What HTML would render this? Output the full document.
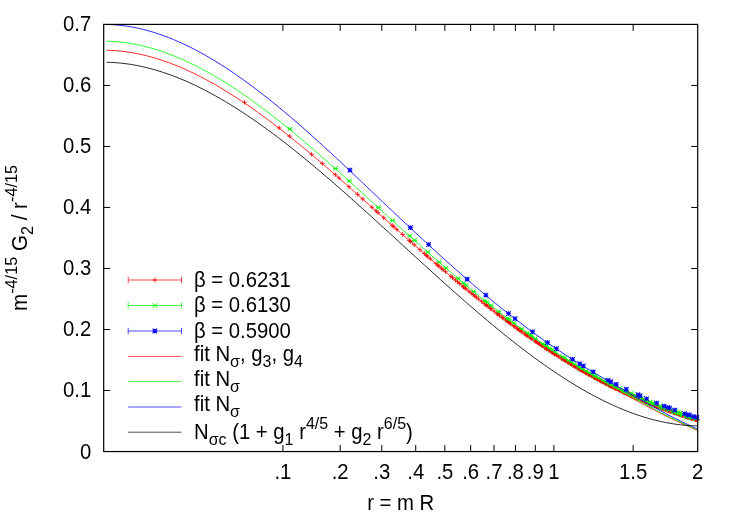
<!DOCTYPE html>
<html><head><meta charset="utf-8"><title>plot</title>
<style>html,body{margin:0;padding:0;background:#fff}svg{display:block;will-change:transform}</style>
</head><body>
<svg width="732" height="513" viewBox="0 0 732 513" font-family="'Liberation Sans', sans-serif" font-size="20.3px" fill="#000">
<rect width="732" height="513" fill="#fff"/>
<text transform="translate(91.3 458.5) scale(1 1.06)" text-anchor="end">0</text>
<text transform="translate(91.3 397.48) scale(1 1.06)" text-anchor="end">0.1</text>
<text transform="translate(91.3 336.46) scale(1 1.06)" text-anchor="end">0.2</text>
<text transform="translate(91.3 275.44) scale(1 1.06)" text-anchor="end">0.3</text>
<text transform="translate(91.3 214.41) scale(1 1.06)" text-anchor="end">0.4</text>
<text transform="translate(91.3 153.39) scale(1 1.06)" text-anchor="end">0.5</text>
<text transform="translate(91.3 92.37) scale(1 1.06)" text-anchor="end">0.6</text>
<text transform="translate(91.3 31.35) scale(1 1.06)" text-anchor="end">0.7</text>
<text transform="translate(282.92 479.2) scale(1 1.06)" text-anchor="middle">.1</text>
<text transform="translate(340.18 479.2) scale(1 1.06)" text-anchor="middle">.2</text>
<text transform="translate(381.81 479.2) scale(1 1.06)" text-anchor="middle">.3</text>
<text transform="translate(415.73 479.2) scale(1 1.06)" text-anchor="middle">.4</text>
<text transform="translate(444.86 479.2) scale(1 1.06)" text-anchor="middle">.5</text>
<text transform="translate(470.67 479.2) scale(1 1.06)" text-anchor="middle">.6</text>
<text transform="translate(494.01 479.2) scale(1 1.06)" text-anchor="middle">.7</text>
<text transform="translate(515.43 479.2) scale(1 1.06)" text-anchor="middle">.8</text>
<text transform="translate(535.29 479.2) scale(1 1.06)" text-anchor="middle">.9</text>
<text transform="translate(553.87 479.2) scale(1 1.06)" text-anchor="middle">1</text>
<text transform="translate(633.13 479.2) scale(1 1.06)" text-anchor="middle">1.5</text>
<text transform="translate(697.7 479.2) scale(1 1.06)" text-anchor="middle">2</text>
<text transform="translate(400.7 509.8) scale(1 1.06)" text-anchor="middle">r = m R</text>
<text transform="translate(27 238) rotate(-90) scale(1.015 1.06)" text-anchor="middle">m<tspan font-size="16px" dy="-9.58">-4/15</tspan><tspan dy="9.58"> G</tspan><tspan font-size="16px" dy="5.75">2</tspan><tspan dy="-5.75"> / r</tspan><tspan font-size="16px" dy="-9.58">-4/15</tspan></text>
<text transform="translate(194.0 286.5) scale(1 1.06)">β = 0.6231</text>
<text transform="translate(194.0 312) scale(1 1.06)">β = 0.6130</text>
<text transform="translate(194.0 337.5) scale(1 1.06)">β = 0.5900</text>
<text transform="translate(194.0 361) scale(1 1.06)">fit N<tspan font-size="16px" dy="5.75">&#963;</tspan><tspan dy="-5.75">, g</tspan><tspan font-size="16px" dy="5.75">3</tspan><tspan dy="-5.75">, g</tspan><tspan font-size="16px" dy="5.75">4</tspan></text>
<text transform="translate(194.0 386.2) scale(1 1.06)">fit N<tspan font-size="16px" dy="5.75">&#963;</tspan></text>
<text transform="translate(194.0 411.2) scale(1 1.06)">fit N<tspan font-size="16px" dy="5.75">&#963;</tspan></text>
<text transform="translate(194.0 439.3) scale(1 1.06)">N<tspan font-size="16px" dy="5.75">&#963;c</tspan><tspan dy="-5.75"> (1 + g</tspan><tspan font-size="16px" dy="5.75">1</tspan><tspan dy="-5.75"> r</tspan><tspan font-size="16px" dy="-9.58">4/5</tspan><tspan dy="9.58"> + g</tspan><tspan font-size="16px" dy="5.75">2</tspan><tspan dy="-5.75"> r</tspan><tspan font-size="16px" dy="-9.58">6/5</tspan><tspan dy="9.58">)</tspan></text>
<path d="M128.2 280H181.5M128.2 276.8v6.4M181.5 276.8v6.4" stroke="#ff0000" stroke-width="0.7" fill="none"/>
<path d="M152.55 280H157.15M154.85 277.7V282.3M242.29 102.31H246.89M244.59 100.01V104.61M276.91 127.88H281.51M279.21 125.58V130.18M287.31 136.13H291.91M289.61 133.83V138.43M309.32 154.29H313.92M311.62 151.99V156.59M320.04 163.43H324.64M322.34 161.13V165.73M332.99 174.66H337.59M335.29 172.36V176.96M336.73 177.94H341.33M339.03 175.64V180.24M346.71 186.74H351.31M349.01 184.44V189.04M355.29 194.37H359.89M357.59 192.07V196.67M360.42 198.96H365.02M362.72 196.66V201.26M369.61 207.19H374.21M371.91 204.89V209.49M373.77 210.92H378.37M376.07 208.62V213.22M375.76 212.7H380.36M378.06 210.4V215M381.4 217.74H386M383.7 215.44V220.04M389.9 225.3H394.5M392.2 223V227.6M391.49 226.7H396.09M393.79 224.4V229M394.56 229.42H399.16M396.86 227.12V231.72M400.34 234.53H404.94M402.64 232.23V236.83M406.99 240.38H411.59M409.29 238.08V242.68M408.25 241.49H412.85M410.55 239.19V243.79M411.92 244.71H416.52M414.22 242.41V247.01M417.67 249.73H422.27M419.97 247.43V252.03M421.99 253.49H426.59M424.29 251.19V255.79M424.07 255.29H428.67M426.37 252.99V257.59M425.09 256.17H429.69M427.39 253.87V258.47M428.06 258.75H432.66M430.36 256.45V261.05M433.72 263.62H438.32M436.02 261.32V265.92M435.52 265.17H440.12M437.82 262.87V267.47M436.4 265.93H441M438.7 263.63V268.23M439.01 268.15H443.61M441.31 265.85V270.45M440.7 269.59H445.3M443 267.29V271.89M443.18 271.69H447.78M445.48 269.39V273.99M448.69 276.35H453.29M450.99 274.05V278.65M450.21 277.62H454.81M452.51 275.32V279.92M453.16 280.09H457.76M455.46 277.79V282.39M455.3 281.88H459.9M457.6 279.58V284.18M457.4 283.62H462M459.7 281.32V285.92M460.79 286.42H465.39M463.09 284.12V288.72M461.46 286.96H466.06M463.76 284.66V289.26M462.77 288.04H467.37M465.07 285.74V290.34M463.42 288.57H468.02M465.72 286.27V290.87M466.59 291.17H471.19M468.89 288.87V293.47M469.06 293.17H473.66M471.36 290.87V295.47M470.86 294.63H475.46M473.16 292.33V296.93M472.63 296.06H477.23M474.93 293.76V298.36M473.8 296.99H478.4M476.1 294.69V299.29M476.08 298.82H480.68M478.38 296.52V301.12M479.4 301.47H484M481.7 299.17V303.77M482.08 303.59H486.68M484.38 301.29V305.89M483.65 304.82H488.25M485.95 302.52V307.12M484.17 305.23H488.77M486.47 302.93V307.53M485.71 306.44H490.31M488.01 304.14V308.74M488.22 308.39H492.82M490.52 306.09V310.69M488.72 308.78H493.32M491.02 306.48V311.08M491.63 311.03H496.23M493.93 308.73V313.33M494.46 313.21H499.06M496.76 310.91V315.51M495.39 313.91H499.99M497.69 311.61V316.21M495.85 314.26H500.45M498.15 311.96V316.56M497.22 315.3H501.82M499.52 313V317.6M499.89 317.33H504.49M502.19 315.03V319.63M500.77 317.99H505.37M503.07 315.69V320.29M503.36 319.93H507.96M505.66 317.63V322.23M504.62 320.87H509.22M506.92 318.57V323.17M505.04 321.18H509.64M507.34 318.88V323.48M506.29 322.11H510.89M508.59 319.81V324.41M507.52 323.02H512.12M509.82 320.72V325.32M508.34 323.62H512.94M510.64 321.32V325.92M511.13 325.67H515.73M513.43 323.37V327.97M512.31 326.52H516.91M514.61 324.22V328.82M514.62 328.2H519.22M516.92 325.9V330.5M515.38 328.74H519.98M517.68 326.44V331.04M516.88 329.82H521.48M519.18 327.52V332.12M517.62 330.36H522.22M519.92 328.06V332.66M518.72 331.14H523.32M521.02 328.84V333.44M519.09 331.41H523.69M521.39 329.11V333.71M521.97 333.45H526.57M524.27 331.15V335.75M523.38 334.44H527.98M525.68 332.14V336.74M524.08 334.93H528.68M526.38 332.63V337.23M524.42 335.18H529.02M526.72 332.88V337.48M525.46 335.9H530.06M527.76 333.6V338.2M527.16 337.09H531.76M529.46 334.79V339.39M528.51 338.02H533.11M530.81 335.72V340.32M529.5 338.71H534.1M531.8 336.41V341.01M532.44 340.72H537.04M534.74 338.42V343.02M533.4 341.38H538M535.7 339.08V343.68M534.03 341.81H538.63M536.33 339.51V344.11M535.29 342.66H539.89M537.59 340.36V344.96M535.92 343.09H540.52M538.22 340.79V345.39M537.16 343.92H541.76M539.46 341.62V346.22M538.99 345.15H543.59M541.29 342.85V347.45M539.59 345.56H544.19M541.89 343.26V347.86M539.89 345.76H544.49M542.19 343.46V348.06M542.27 347.34H546.87M544.57 345.04V349.64M542.56 347.53H547.16M544.86 345.23V349.83M543.44 348.11H548.04M545.74 345.81V350.41M544.31 348.68H548.91M546.61 346.38V350.98M544.88 349.06H549.48M547.18 346.76V351.36M546.03 349.81H550.63M548.33 347.51V352.11M546.88 350.36H551.48M549.18 348.06V352.66M549.11 351.81H553.71M551.41 349.51V354.11M549.38 351.99H553.98M551.68 349.69V354.29M549.93 352.34H554.53M552.23 350.04V354.64M551.03 353.05H555.63M553.33 350.75V355.35M551.57 353.39H556.17M553.87 351.09V355.69M552.38 353.91H556.98M554.68 351.61V356.21M552.65 354.08H557.25M554.95 351.78V356.38M554.24 355.1H558.84M556.54 352.8V357.4M555.81 356.1H560.41M558.11 353.8V358.4M556.33 356.43H560.93M558.63 354.13V358.73M558.9 358.04H563.5M561.2 355.74V360.34M559.4 358.36H564M561.7 356.06V360.66M559.65 358.52H564.25M561.95 356.22V360.82M560.41 358.98H565.01M562.71 356.68V361.28M561.65 359.76H566.25M563.95 357.46V362.06M561.9 359.91H566.5M564.2 357.61V362.21M563.37 360.82H567.97M565.67 358.52V363.12M563.86 361.12H568.46M566.16 358.82V363.42M565.3 362.01H569.9M567.6 359.71V364.31M565.54 362.15H570.14M567.84 359.85V364.45M567.68 363.45H572.28M569.98 361.15V365.75M568.15 363.74H572.75M570.45 361.44V366.04M568.38 363.88H572.98M570.68 361.58V366.18M569.08 364.3H573.68M571.38 362V366.6M570.46 365.13H575.06M572.76 362.83V367.43M571.15 365.54H575.75M573.45 363.24V367.84M572.28 366.22H576.88M574.58 363.92V368.52M573.18 366.75H577.78M575.48 364.45V369.05M574.52 367.54H579.12M576.82 365.24V369.84M575.62 368.19H580.22M577.92 365.89V370.49M575.84 368.32H580.44M578.14 366.02V370.62M576.5 368.7H581.1M578.8 366.4V371M577.15 369.09H581.75M579.45 366.79V371.39M577.58 369.34H582.18M579.88 367.04V371.64M578.23 369.71H582.83M580.53 367.41V372.01M579.09 370.2H583.69M581.39 367.9V372.5M580.15 370.81H584.75M582.45 368.51V373.11M580.99 371.29H585.59M583.29 368.99V373.59M582.24 371.99H586.84M584.54 369.69V374.29M583.28 372.57H587.88M585.58 370.27V374.87M583.48 372.69H588.08M585.78 370.39V374.99M583.89 372.92H588.49M586.19 370.62V375.22M584.71 373.37H589.31M587.01 371.07V375.67M585.92 374.05H590.52M588.22 371.75V376.35M586.53 374.38H591.13M588.83 372.08V376.68M587.13 374.71H591.73M589.43 372.41V377.01M587.53 374.93H592.13M589.83 372.63V377.23M588.91 375.69H593.51M591.21 373.39V377.99M589.5 376.01H594.1M591.8 373.71V378.31M591.05 376.86H595.65M593.35 374.56V379.16M591.25 376.97H595.85M593.55 374.67V379.27M591.82 377.29H596.42M594.12 374.99V379.59M592.21 377.5H596.81M594.51 375.2V379.8M592.78 377.81H597.38M595.08 375.51V380.11M594.11 378.53H598.71M596.41 376.23V380.83M594.48 378.74H599.08M596.78 376.44V381.04M595.23 379.14H599.83M597.53 376.84V381.44M595.79 379.45H600.39M598.09 377.15V381.75M597.45 380.35H602.05M599.75 378.05V382.65M597.82 380.54H602.42M600.12 378.24V382.84M598.55 380.93H603.15M600.85 378.63V383.23M598.91 381.13H603.51M601.21 378.83V383.43M599.63 381.52H604.23M601.93 379.22V383.82M600.17 381.8H604.77M602.47 379.5V384.1M600.71 382.09H605.31M603.01 379.79V384.39M602.13 382.84H606.73M604.43 380.54V385.14M602.83 383.21H607.43M605.13 380.91V385.51M603.71 383.67H608.31M606.01 381.37V385.97M603.88 383.76H608.48M606.18 381.46V386.06M604.23 383.94H608.83M606.53 381.64V386.24M605.78 384.74H610.38M608.08 382.44V387.04M605.96 384.83H610.56M608.26 382.53V387.13M606.47 385.09H611.07M608.77 382.79V387.39M607.32 385.51H611.92M609.62 383.21V387.81M608 385.84H612.6M610.3 383.54V388.14M608.33 386H612.93M610.63 383.7V388.3M608.5 386.08H613.1M610.8 383.78V388.38M609 386.32H613.6M611.3 384.02V388.62M610 386.79H614.6M612.3 384.49V389.09M610.99 387.24H615.59M613.29 384.94V389.54M611.82 387.62H616.42M614.12 385.32V389.92M611.98 387.69H616.58M614.28 385.39V389.99M612.47 387.91H617.07M614.77 385.61V390.21M612.96 388.13H617.56M615.26 385.83V390.43M613.28 388.28H617.88M615.58 385.98V390.58M613.92 388.57H618.52M616.22 386.27V390.87M614.89 389.01H619.49M617.19 386.71V391.31M616.16 389.59H620.76M618.46 387.29V391.89M616.32 389.66H620.92M618.62 387.36V391.96M617.1 390.02H621.7M619.4 387.72V392.32M617.73 390.3H622.33M620.03 388V392.6M618.97 390.86H623.57M621.27 388.56V393.16M619.59 391.13H624.19M621.89 388.83V393.43M619.9 391.27H624.5M622.2 388.97V393.57M620.05 391.34H624.65M622.35 389.04V393.64M620.51 391.54H625.11M622.81 389.24V393.84M621.27 391.88H625.87M623.57 389.58V394.18M621.73 392.08H626.33M624.03 389.78V394.38M621.88 392.15H626.48M624.18 389.85V394.45M622.33 392.35H626.93M624.63 390.05V394.65M623.68 392.96H628.28M625.98 390.66V395.26M624.13 393.15H628.73M626.43 390.85V395.45M625.02 393.55H629.62M627.32 391.25V395.85M625.31 393.68H629.91M627.61 391.38V395.98M626.78 394.34H631.38M629.08 392.04V396.64M627.07 394.47H631.67M629.37 392.17V396.77M627.22 394.53H631.82M629.52 392.23V396.83M627.65 394.73H632.25M629.95 392.43V397.03M627.94 394.86H632.54M630.24 392.56V397.16M628.37 395.05H632.97M630.67 392.75V397.35M628.52 395.11H633.12M630.82 392.81V397.41M629.38 395.5H633.98M631.68 393.2V397.8M629.66 395.62H634.26M631.96 393.32V397.92M631.08 396.25H635.68M633.38 393.95V398.55M631.78 396.57H636.38M634.08 394.27V398.87M631.92 396.63H636.52M634.22 394.33V398.93M632.76 397H637.36M635.06 394.7V399.3M633.46 397.31H638.06M635.76 395.01V399.61M633.6 397.37H638.2M635.9 395.07V399.67M634.01 397.55H638.61M636.31 395.25V399.85M634.42 397.74H639.02M636.72 395.44V400.04M634.7 397.86H639.3M637 395.56V400.16M635.66 398.28H640.26M637.96 395.98V400.58M636.06 398.46H640.66M638.36 396.16V400.76M636.88 398.81H641.48M639.18 396.51V401.11M637.28 398.99H641.88M639.58 396.69V401.29M638.35 399.46H642.95M640.65 397.16V401.76M639.29 399.86H643.89M641.59 397.56V402.16M639.55 399.98H644.15M641.85 397.68V402.28M640.08 400.21H644.68M642.38 397.91V402.51M640.34 400.32H644.94M642.64 398.02V402.62M640.87 400.55H645.47M643.17 398.25V402.85M641.65 400.88H646.25M643.95 398.58V403.18M641.91 400.99H646.51M644.21 398.69V403.29M642.04 401.05H646.64M644.34 398.75V403.35M642.69 401.33H647.29M644.99 399.03V403.63M643.21 401.55H647.81M645.51 399.25V403.85M643.59 401.71H648.19M645.89 399.41V404.01M643.98 401.87H648.58M646.28 399.57V404.17M644.24 401.98H648.84M646.54 399.68V404.28M644.75 402.2H649.35M647.05 399.9V404.5M645.51 402.52H650.11M647.81 400.22V404.82M646.52 402.94H651.12M648.82 400.64V405.24M646.64 403H651.24M648.94 400.7V405.3M647.02 403.15H651.62M649.32 400.85V405.45M647.27 403.26H651.87M649.57 400.96V405.56M647.65 403.42H652.25M649.95 401.12V405.72M647.77 403.47H652.37M650.07 401.17V405.77M648.52 403.78H653.12M650.82 401.48V406.08M649.26 404.09H653.86M651.56 401.79V406.39M649.63 404.24H654.23M651.93 401.94V406.54M650.61 404.64H655.21M652.91 402.34V406.94M650.97 404.79H655.57M653.27 402.49V407.09M651.46 404.99H656.06M653.76 402.69V407.29M652.06 405.23H656.66M654.36 402.93V407.53M652.54 405.43H657.14M654.84 403.13V407.73M652.91 405.57H657.51M655.21 403.27V407.87M653.15 405.67H657.75M655.45 403.37V407.97M653.62 405.86H658.22M655.92 403.56V408.16M653.86 405.96H658.46M656.16 403.66V408.26M654.34 406.15H658.94M656.64 403.85V408.45M655.05 406.43H659.65M657.35 404.13V408.73M655.29 406.52H659.89M657.59 404.22V408.82M656.34 406.93H660.94M658.64 404.63V409.23M656.46 406.97H661.06M658.76 404.67V409.27M657.86 407.51H662.46M660.16 405.21V409.81M658.2 407.64H662.8M660.5 405.34V409.94M658.55 407.77H663.15M660.85 405.47V410.07M659.12 407.98H663.72M661.42 405.68V410.28M659.24 408.02H663.84M661.54 405.72V410.32M659.47 408.11H664.07M661.77 405.81V410.41M659.58 408.15H664.18M661.88 405.85V410.45M660.15 408.36H664.75M662.45 406.06V410.66M660.95 408.65H665.55M663.25 406.35V410.95M661.29 408.77H665.89M663.59 406.47V411.07M661.51 408.85H666.11M663.81 406.55V411.15M661.96 409.01H666.56M664.26 406.71V411.31M662.19 409.09H666.79M664.49 406.79V411.39M663.2 409.43H667.8M665.5 407.13V411.73M663.31 409.47H667.91M665.61 407.17V411.77M663.53 409.54H668.13M665.83 407.24V411.84M664.64 409.9H669.24M666.94 407.6V412.2M664.97 410.01H669.57M667.27 407.71V412.31M665.3 410.12H669.9M667.6 407.82V412.42M665.52 410.19H670.12M667.82 407.89V412.49M665.96 410.34H670.56M668.26 408.04V412.64M666.28 410.45H670.88M668.58 408.15V412.75M666.61 410.57H671.21M668.91 408.27V412.87M667.48 410.87H672.08M669.78 408.57V413.17M667.91 411.02H672.51M670.21 408.72V413.32M668.12 411.1H672.72M670.42 408.8V413.4M668.55 411.25H673.15M670.85 408.95V413.55M669.2 411.48H673.8M671.5 409.18V413.78M669.84 411.71H674.44M672.14 409.41V414.01M670.16 411.83H674.76M672.46 409.53V414.13M670.47 411.94H675.07M672.77 409.64V414.24M671.32 412.24H675.92M673.62 409.94V414.54M671.42 412.28H676.02M673.72 409.98V414.58M671.74 412.39H676.34M674.04 410.09V414.69M671.95 412.47H676.55M674.25 410.17V414.77M672.26 412.58H676.86M674.56 410.28V414.88M672.37 412.61H676.97M674.67 410.31V414.91M672.99 412.84H677.59M675.29 410.54V415.14M673.2 412.91H677.8M675.5 410.61V415.21M673.93 413.17H678.53M676.23 410.87V415.47M674.75 413.46H679.35M677.05 411.16V415.76M674.85 413.5H679.45M677.15 411.2V415.8M675.06 413.57H679.66M677.36 411.27V415.87M675.47 413.72H680.07M677.77 411.42V416.02M676.08 413.94H680.68M678.38 411.64V416.24M676.38 414.05H680.98M678.68 411.75V416.35M676.89 414.23H681.49M679.19 411.93V416.53M677.3 414.37H681.9M679.6 412.07V416.67M677.5 414.45H682.1M679.8 412.15V416.75M677.9 414.59H682.5M680.2 412.29V416.89M678.5 414.8H683.1M680.8 412.5V417.1M678.8 414.91H683.4M681.1 412.61V417.21M679.1 415.01H683.7M681.4 412.71V417.31M679.3 415.08H683.9M681.6 412.78V417.38M679.6 415.18H684.2M681.9 412.88V417.48M680 415.32H684.6M682.3 413.02V417.62M680.29 415.42H684.89M682.59 413.12V417.72M681.47 415.82H686.07M683.77 413.52V418.12M682.26 416.07H686.86M684.56 413.77V418.37M682.84 416.26H687.44M685.14 413.96V418.56M683.13 416.35H687.73M685.43 414.05V418.65M683.23 416.38H687.83M685.53 414.08V418.68M683.52 416.46H688.12M685.82 414.16V418.76M684 416.6H688.6M686.3 414.3V418.9M684.39 416.71H688.99M686.69 414.41V419.01M684.68 416.8H689.28M686.98 414.5V419.1M685.54 417.04H690.14M687.84 414.74V419.34M685.73 417.09H690.33M688.03 414.79V419.39M685.82 417.12H690.42M688.12 414.82V419.42M686.11 417.2H690.71M688.41 414.9V419.5M686.58 417.33H691.18M688.88 415.03V419.63M686.68 417.36H691.28M688.98 415.06V419.66M687.81 417.69H692.41M690.11 415.39V419.99M687.99 417.74H692.59M690.29 415.44V420.04M688.09 417.77H692.69M690.39 415.47V420.07M688.93 418.02H693.53M691.23 415.72V420.32M689.12 418.07H693.72M691.42 415.77V420.37M689.21 418.1H693.81M691.51 415.8V420.4M689.49 418.18H694.09M691.79 415.88V420.48M690.04 418.34H694.64M692.34 416.04V420.64M690.6 418.5H695.2M692.9 416.2V420.8M690.78 418.56H695.38M693.08 416.26V420.86M691.7 418.82H696.3M694 416.52V421.12M692.16 418.96H696.76M694.46 416.66V421.26M692.25 418.98H696.85M694.55 416.68V421.28M692.43 419.04H697.03M694.73 416.74V421.34M692.52 419.06H697.12M694.82 416.76V421.36M692.79 419.14H697.39M695.09 416.84V421.44M693.25 419.27H697.85M695.55 416.97V421.57M694.06 419.5H698.66M696.36 417.2V421.8M694.42 419.61H699.02M696.72 417.31V421.91M694.6 419.66H699.2M696.9 417.36V421.96M694.69 419.68H699.29M696.99 417.38V421.98M694.95 419.76H699.55M697.25 417.46V422.06" stroke="#ff0000" stroke-width="0.85" fill="none"/>
<path d="M128.2 305.5H181.5M128.2 302.3v6.4M181.5 302.3v6.4" stroke="#00ff00" stroke-width="0.7" fill="none"/>
<path d="M152.55 303.2L157.15 307.8M152.55 307.8L157.15 303.2M152.55 305.5H157.15M287.58 126.56L292.18 131.16M287.58 131.16L292.18 126.56M287.58 128.86H292.18M333.33 166.2L337.93 170.8M333.33 170.8L337.93 166.2M333.33 168.5H337.93M347.07 178.61L351.67 183.21M347.07 183.21L351.67 178.61M347.07 180.91H351.67M376.16 205.24L380.76 209.84M376.16 209.84L380.76 205.24M376.16 207.54H380.76M390.32 218.16L394.92 222.76M390.32 222.76L394.92 218.16M390.32 220.46H394.92M407.43 233.62L412.03 238.22M407.43 238.22L412.03 233.62M407.43 235.92H412.03M412.37 238.05L416.97 242.65M412.37 242.65L416.97 238.05M412.37 240.35H416.97M425.56 249.8L430.16 254.4M425.56 254.4L430.16 249.8M425.56 252.1H430.16M436.89 259.79L441.49 264.39M436.89 264.39L441.49 259.79M436.89 262.09H441.49M443.68 265.69L448.28 270.29M443.68 270.29L448.28 265.69M443.68 267.99H448.28M455.82 276.12L460.42 280.72M455.82 280.72L460.42 276.12M455.82 278.42H460.42M461.32 280.77L465.92 285.37M461.32 285.37L465.92 280.77M461.32 283.07H465.92M463.95 282.97L468.55 287.57M463.95 287.57L468.55 282.97M463.95 285.27H468.55M471.4 289.18L476 293.78M471.4 293.78L476 289.18M471.4 291.48H476M482.63 298.34L487.23 302.94M482.63 302.94L487.23 298.34M482.63 300.64H487.23M484.73 300.02L489.33 304.62M484.73 304.62L489.33 300.02M484.73 302.32H489.33M488.79 303.26L493.39 307.86M488.79 307.86L493.39 303.26M488.79 305.56H493.39M496.43 309.26L501.03 313.86M496.43 313.86L501.03 309.26M496.43 311.56H501.03M505.21 316.02L509.81 320.62M505.21 320.62L509.81 316.02M505.21 318.32H509.81M506.88 317.28L511.48 321.88M506.88 321.88L511.48 317.28M506.88 319.58H511.48M511.73 320.92L516.33 325.52M511.73 325.52L516.33 320.92M511.73 323.22H516.33M519.33 326.53L523.93 331.13M519.33 331.13L523.93 326.53M519.33 328.83H523.93M525.04 330.65L529.64 335.25M525.04 335.25L529.64 330.65M525.04 332.95H529.64M527.78 332.6L532.38 337.2M527.78 337.2L532.38 332.6M527.78 334.9H532.38M529.13 333.55L533.73 338.15M529.13 338.15L533.73 333.55M529.13 335.85H533.73M533.06 336.32L537.66 340.92M533.06 340.92L537.66 336.32M533.06 338.62H537.66M540.53 341.47L545.13 346.07M540.53 346.07L545.13 341.47M540.53 343.77H545.13M542.91 343.08L547.51 347.68M542.91 347.68L547.51 343.08M542.91 345.38H547.51M544.08 343.87L548.68 348.47M544.08 348.47L548.68 343.87M544.08 346.17H548.68M547.53 346.17L552.13 350.77M547.53 350.77L552.13 346.17M547.53 348.47H552.13M549.76 347.65L554.36 352.25M549.76 352.25L554.36 347.65M549.76 349.95H554.36M553.03 349.8L557.63 354.4M553.03 354.4L557.63 349.8M553.03 352.1H557.63M560.32 354.51L564.92 359.11M560.32 359.11L564.92 354.51M560.32 356.81H564.92M562.32 355.78L566.92 360.38M562.32 360.38L566.92 355.78M562.32 358.08H566.92M566.22 358.22L570.82 362.82M566.22 362.82L570.82 358.22M566.22 360.52H570.82M569.06 359.98L573.66 364.58M569.06 364.58L573.66 359.98M569.06 362.28H573.66M571.83 361.68L576.43 366.28M571.83 366.28L576.43 361.68M571.83 363.98H576.43M576.32 364.39L580.92 368.99M576.32 368.99L580.92 364.39M576.32 366.69H580.92M577.19 364.92L581.79 369.52M577.19 369.52L581.79 364.92M577.19 367.22H581.79M578.93 365.94L583.53 370.54M578.93 370.54L583.53 365.94M578.93 368.24H583.53M579.78 366.44L584.38 371.04M579.78 371.04L584.38 366.44M579.78 368.74H584.38M583.98 368.86L588.58 373.46M583.98 373.46L588.58 368.86M583.98 371.16H588.58M587.23 370.71L591.83 375.31M587.23 375.31L591.83 370.71M587.23 373.01H591.83M589.62 372.05L594.22 376.65M589.62 376.65L594.22 372.05M589.62 374.35H594.22M591.96 373.36L596.56 377.96M591.96 377.96L596.56 373.36M591.96 375.66H596.56M593.5 374.22L598.1 378.82M593.5 378.82L598.1 374.22M593.5 376.52H598.1M596.51 375.89L601.11 380.49M596.51 380.49L601.11 375.89M596.51 378.19H601.11M600.9 378.3L605.5 382.9M600.9 382.9L605.5 378.3M600.9 380.6H605.5M604.44 380.19L609.04 384.79M604.44 384.79L609.04 380.19M604.44 382.49H609.04M606.52 381.29L611.12 385.89M606.52 385.89L611.12 381.29M606.52 383.59H611.12M607.21 381.64L611.81 386.24M607.21 386.24L611.81 381.64M607.21 383.94H611.81M609.24 382.64L613.84 387.24M609.24 387.24L613.84 382.64M609.24 384.94H613.84M612.56 384.19L617.16 388.79M612.56 388.79L617.16 384.19M612.56 386.49H617.16M613.21 384.49L617.81 389.09M613.21 389.09L617.81 384.49M613.21 386.79H617.81M617.07 386.28L621.67 390.88M617.07 390.88L621.67 386.28M617.07 388.58H621.67M620.81 388L625.41 392.6M620.81 392.6L625.41 388M620.81 390.3H625.41M622.03 388.55L626.63 393.15M622.03 393.15L626.63 388.55M622.03 390.85H626.63M622.64 388.83L627.24 393.43M622.64 393.43L627.24 388.83M622.64 391.13H627.24M624.45 389.65L629.05 394.25M624.45 394.25L629.05 389.65M624.45 391.95H629.05M627.98 391.27L632.58 395.87M627.98 395.87L632.58 391.27M627.98 393.57H632.58M629.14 391.8L633.74 396.4M629.14 396.4L633.74 391.8M629.14 394.1H633.74M632.56 393.35L637.16 397.95M632.56 397.95L637.16 393.35M632.56 395.65H637.16M634.23 394.11L638.83 398.71M634.23 398.71L638.83 394.11M634.23 396.41H638.83M634.79 394.36L639.39 398.96M634.79 398.96L639.39 394.36M634.79 396.66H639.39M636.44 395.1L641.04 399.7M636.44 399.7L641.04 395.1M636.44 397.4H641.04M638.06 395.83L642.66 400.43M638.06 400.43L642.66 395.83M638.06 398.13H642.66M639.14 396.31L643.74 400.91M639.14 400.91L643.74 396.31M639.14 398.61H643.74M642.83 397.93L647.43 402.53M642.83 402.53L647.43 397.93M642.83 400.23H647.43M644.39 398.6L648.99 403.2M644.39 403.2L648.99 398.6M644.39 400.9H648.99M647.44 399.92L652.04 404.52M647.44 404.52L652.04 399.92M647.44 402.22H652.04M648.44 400.35L653.04 404.95M648.44 404.95L653.04 400.35M648.44 402.65H653.04M650.43 401.18L655.03 405.78M650.43 405.78L655.03 401.18M650.43 403.48H655.03M651.41 401.59L656.01 406.19M651.41 406.19L656.01 401.59M651.41 403.89H656.01M652.87 402.2L657.47 406.8M652.87 406.8L657.47 402.2M652.87 404.5H657.47M653.35 402.4L657.95 407M653.35 407L657.95 402.4M653.35 404.7H657.95M657.15 403.92L661.75 408.52M657.15 408.52L661.75 403.92M657.15 406.22H661.75M659.02 404.63L663.62 409.23M659.02 409.23L663.62 404.63M659.02 406.93H663.62M659.94 404.98L664.54 409.58M659.94 409.58L664.54 404.98M659.94 407.28H664.54M660.4 405.15L665 409.75M660.4 409.75L665 405.15M660.4 407.45H665M661.76 405.66L666.36 410.26M661.76 410.26L666.36 405.66M661.76 407.96H666.36M664.02 406.43L668.62 411.03M664.02 411.03L668.62 406.43M664.02 408.73H668.62M665.79 407.03L670.39 411.63M665.79 411.63L670.39 407.03M665.79 409.33H670.39M667.11 407.5L671.71 412.1M667.11 412.1L671.71 407.5M667.11 409.8H671.71M670.98 408.91L675.58 413.51M670.98 413.51L675.58 408.91M670.98 411.21H675.58M672.25 409.37L676.85 413.97M672.25 413.97L676.85 409.37M672.25 411.67H676.85M673.09 409.68L677.69 414.28M673.09 414.28L677.69 409.68M673.09 411.98H677.69M674.76 410.29L679.36 414.89M674.76 414.89L679.36 410.29M674.76 412.59H679.36M675.59 410.59L680.19 415.19M675.59 415.19L680.19 410.59M675.59 412.89H680.19M677.22 411.19L681.82 415.79M677.22 415.79L681.82 411.19M677.22 413.49H681.82M679.64 412.06L684.24 416.66M679.64 416.66L684.24 412.06M679.64 414.36H684.24M680.44 412.34L685.04 416.94M680.44 416.94L685.04 412.34M680.44 414.64H685.04M680.84 412.47L685.44 417.07M680.84 417.07L685.44 412.47M680.84 414.77H685.44M683.98 413.49L688.58 418.09M683.98 418.09L688.58 413.49M683.98 415.79H688.58M684.37 413.6L688.97 418.2M684.37 418.2L688.97 413.6M684.37 415.9H688.97M685.53 413.94L690.13 418.54M685.53 418.54L690.13 413.94M685.53 416.24H690.13M686.67 414.27L691.27 418.87M686.67 418.87L691.27 414.27M686.67 416.57H691.27M687.43 414.49L692.03 419.09M687.43 419.09L692.03 414.49M687.43 416.79H692.03M688.94 414.95L693.54 419.55M688.94 419.55L693.54 414.95M688.94 417.25H693.54M690.07 415.28L694.67 419.88M690.07 419.88L694.67 415.28M690.07 417.58H694.67M693.02 416.16L697.62 420.76M693.02 420.76L697.62 416.16M693.02 418.46H697.62M693.38 416.26L697.98 420.86M693.38 420.86L697.98 416.26M693.38 418.56H697.98M694.11 416.48L698.71 421.08M694.11 421.08L698.71 416.48M694.11 418.78H698.71" stroke="#00ff00" stroke-width="0.95" fill="none"/>
<path d="M128.2 331H181.5M128.2 327.8v6.4M181.5 327.8v6.4" stroke="#0000ff" stroke-width="0.7" fill="none"/>
<path d="M152.55 331H157.15M154.85 328.7V333.3M152.55 328.7L157.15 333.3M152.55 333.3L157.15 328.7M347.69 170.05H352.29M349.99 167.75V172.35M347.69 167.75L352.29 172.35M347.69 172.35L352.29 167.75M408.21 227.61H412.81M410.51 225.31V229.91M408.21 225.31L412.81 229.91M408.21 229.91L412.81 225.31M426.38 244.51H430.98M428.68 242.21V246.81M426.38 242.21L430.98 246.81M426.38 246.81L430.98 242.21M464.87 279.13H469.47M467.17 276.83V281.43M464.87 276.83L469.47 281.43M464.87 281.43L469.47 276.83M483.6 295.15H488.2M485.9 292.85V297.45M483.6 292.85L488.2 297.45M483.6 297.45L488.2 292.85M506.24 313.57H510.84M508.54 311.27V315.87M506.24 311.27L510.84 315.87M506.24 315.87L510.84 311.27M512.77 318.68H517.37M515.07 316.38V320.98M512.77 316.38L517.37 320.98M512.77 320.98L517.37 316.38M530.21 331.82H534.81M532.51 329.52V334.12M530.21 329.52L534.81 334.12M530.21 334.12L534.81 329.52M545.21 342.56H549.81M547.51 340.26V344.86M545.21 340.26L549.81 344.86M545.21 344.86L549.81 340.26M554.18 348.73H558.78M556.48 346.43V351.03M554.18 346.43L558.78 351.03M554.18 351.03L558.78 346.43M570.25 359.32H574.85M572.55 357.02V361.62M570.25 357.02L574.85 361.62M570.25 361.62L574.85 357.02M577.52 363.9H582.12M579.82 361.6V366.2M577.52 361.6L582.12 366.2M577.52 366.2L582.12 361.6M581 366.02H585.6M583.3 363.72V368.32M581 363.72L585.6 368.32M581 368.32L585.6 363.72M590.86 371.84H595.46M593.16 369.54V374.14M590.86 369.54L595.46 374.14M590.86 374.14L595.46 369.54M605.72 380.31H610.32M608.02 378.01V382.61M605.72 378.01L610.32 382.61M605.72 382.61L610.32 378.01M608.49 381.77H613.09M610.79 379.47V384.07M608.49 379.47L613.09 384.07M608.49 384.07L613.09 379.47M613.86 384.39H618.46M616.16 382.09V386.69M613.86 382.09L618.46 386.69M613.86 386.69L618.46 382.09M623.96 389.23H628.56M626.26 386.93V391.53M623.96 386.93L628.56 391.53M623.96 391.53L628.56 386.93M635.59 394.73H640.19M637.89 392.43V397.03M635.59 392.43L640.19 397.03M635.59 397.03L640.19 392.43M637.79 395.76H642.39M640.09 393.46V398.06M637.79 393.46L642.39 398.06M637.79 398.06L642.39 393.46M644.21 398.7H648.81M646.51 396.4V401M644.21 396.4L648.81 401M644.21 401L648.81 396.4M654.27 403.12H658.87M656.57 400.82V405.42M654.27 400.82L658.87 405.42M654.27 405.42L658.87 400.82M661.82 406.15H666.42M664.12 403.85V408.45M661.82 403.85L666.42 408.45M661.82 408.45L666.42 403.85M665.44 407.43H670.04M667.74 405.13V409.73M665.44 405.13L670.04 409.73M665.44 409.73L670.04 405.13M667.22 408.09H671.82M669.52 405.79V410.39M667.22 405.79L671.82 410.39M667.22 410.39L671.82 405.79M672.43 410.06H677.03M674.73 407.76V412.36M672.43 407.76L677.03 412.36M672.43 412.36L677.03 407.76M682.31 413.74H686.91M684.61 411.44V416.04M682.31 411.44L686.91 416.04M682.31 416.04L686.91 411.44M685.46 414.73H690.06M687.76 412.43V417.03M685.46 412.43L690.06 417.03M685.46 417.03L690.06 412.43M687.01 415.2H691.61M689.31 412.9V417.5M687.01 412.9L691.61 417.5M687.01 417.5L691.61 412.9M691.56 416.61H696.16M693.86 414.31V418.91M691.56 414.31L696.16 418.91M691.56 418.91L696.16 414.31M694.52 417.52H699.12M696.82 415.22V419.82M694.52 415.22L699.12 419.82M694.52 419.82L699.12 415.22" stroke="#0000ff" stroke-width="1.05" fill="none"/>
<path d="M128.2 356.4H181.5" stroke="#ff0000" stroke-width="0.7" fill="none"/>
<path d="M106.67 50.24 L109.14 50.31 L111.62 50.41 L114.09 50.55 L116.56 50.73 L119.03 50.94 L121.51 51.2 L123.98 51.49 L126.45 51.81 L128.93 52.17 L131.4 52.57 L133.87 53 L136.35 53.47 L138.82 53.97 L141.29 54.5 L143.76 55.07 L146.24 55.68 L148.71 56.31 L151.18 56.98 L153.66 57.68 L156.13 58.42 L158.6 59.18 L161.07 59.98 L163.55 60.81 L166.02 61.67 L168.49 62.56 L170.97 63.48 L173.44 64.43 L175.91 65.41 L178.38 66.42 L180.86 67.45 L183.33 68.52 L185.8 69.62 L188.28 70.74 L190.75 71.89 L193.22 73.07 L195.7 74.27 L198.17 75.5 L200.64 76.76 L203.11 78.04 L205.59 79.35 L208.06 80.69 L210.53 82.05 L213.01 83.43 L215.48 84.84 L217.95 86.27 L220.42 87.72 L222.9 89.2 L225.37 90.7 L227.84 92.23 L230.32 93.77 L232.79 95.34 L235.26 96.93 L237.74 98.54 L240.21 100.17 L242.68 101.82 L245.15 103.49 L247.63 105.18 L250.1 106.89 L252.57 108.62 L255.05 110.36 L257.52 112.13 L259.99 113.91 L262.46 115.71 L264.94 117.53 L267.41 119.37 L269.88 121.22 L272.36 123.08 L274.83 124.97 L277.3 126.86 L279.78 128.78 L282.25 130.71 L284.72 132.65 L287.19 134.6 L289.67 136.57 L292.14 138.55 L294.61 140.55 L297.09 142.56 L299.56 144.58 L302.03 146.61 L304.5 148.65 L306.98 150.71 L309.45 152.77 L311.92 154.85 L314.4 156.93 L316.87 159.02 L319.34 161.13 L321.81 163.24 L324.29 165.36 L326.76 167.49 L329.23 169.63 L331.71 171.77 L334.18 173.92 L336.65 176.08 L339.13 178.24 L341.6 180.41 L344.07 182.59 L346.54 184.77 L349.02 186.95 L351.49 189.14 L353.96 191.34 L356.44 193.54 L358.91 195.74 L361.38 197.94 L363.85 200.15 L366.33 202.36 L368.8 204.57 L371.27 206.78 L373.75 209 L376.22 211.21 L378.69 213.41 L381.17 215.62 L383.64 217.82 L386.11 220.02 L388.58 222.22 L391.06 224.42 L393.53 226.61 L396 228.8 L398.48 230.98 L400.95 233.17 L403.42 235.34 L405.89 237.52 L408.37 239.69 L410.84 241.86 L413.31 244.03 L415.79 246.19 L418.26 248.35 L420.73 250.5 L423.2 252.65 L425.68 254.8 L428.15 256.94 L430.62 259.08 L433.1 261.21 L435.57 263.33 L438.04 265.45 L440.52 267.56 L442.99 269.67 L445.46 271.77 L447.93 273.86 L450.41 275.94 L452.88 278.01 L455.35 280.08 L457.83 282.14 L460.3 284.19 L462.77 286.23 L465.24 288.26 L467.72 290.28 L470.19 292.3 L472.66 294.3 L475.14 296.29 L477.61 298.28 L480.08 300.25 L482.56 302.21 L485.03 304.16 L487.5 306.1 L489.97 308.03 L492.45 309.95 L494.92 311.85 L497.39 313.75 L499.87 315.63 L502.34 317.5 L504.81 319.35 L507.28 321.2 L509.76 323.03 L512.23 324.84 L514.7 326.65 L517.18 328.44 L519.65 330.21 L522.12 331.98 L524.59 333.73 L527.07 335.47 L529.54 337.19 L532.01 338.9 L534.49 340.6 L536.96 342.28 L539.43 343.95 L541.91 345.61 L544.38 347.25 L546.85 348.88 L549.32 350.5 L551.8 352.1 L554.27 353.69 L556.74 355.27 L559.22 356.83 L561.69 358.38 L564.16 359.91 L566.63 361.43 L569.11 362.94 L571.58 364.44 L574.05 365.92 L576.53 367.4 L579 368.86 L581.47 370.31 L583.95 371.75 L586.42 373.18 L588.89 374.6 L591.36 376 L593.84 377.4 L596.31 378.79 L598.78 380.16 L601.26 381.52 L603.73 382.88 L606.2 384.22 L608.67 385.56 L611.15 386.89 L613.62 388.24 L616.09 389.59 L618.57 390.94 L621.04 392.29 L623.51 393.64 L625.99 394.97 L628.46 396.29 L630.93 397.62 L633.4 398.94 L635.88 400.26 L638.35 401.57 L640.82 402.87 L643.3 404.18 L645.77 405.49 L648.24 406.8 L650.71 408.11 L653.19 409.41 L655.66 410.71 L658.13 412 L660.61 413.27 L663.08 414.52 L665.55 415.76 L668.02 416.97 L670.5 418.15 L672.97 419.32 L675.44 420.49 L677.92 421.64 L680.39 422.78 L682.86 423.91 L685.34 425.04 L687.81 426.15 L690.28 427.26 L692.75 428.36 L695.23 429.46 L697.7 430.55" stroke="#ff0000" stroke-width="0.85" fill="none" stroke-linejoin="round"/>
<path d="M128.2 381.6H181.5" stroke="#00ff00" stroke-width="0.7" fill="none"/>
<path d="M106.67 41.21 L109.14 41.28 L111.62 41.38 L114.09 41.53 L116.56 41.71 L119.03 41.93 L121.51 42.19 L123.98 42.48 L126.45 42.82 L128.93 43.19 L131.4 43.59 L133.87 44.03 L136.35 44.51 L138.82 45.02 L141.29 45.57 L143.76 46.15 L146.24 46.77 L148.71 47.42 L151.18 48.1 L153.66 48.82 L156.13 49.57 L158.6 50.35 L161.07 51.17 L163.55 52.02 L166.02 52.89 L168.49 53.8 L170.97 54.75 L173.44 55.72 L175.91 56.72 L178.38 57.75 L180.86 58.81 L183.33 59.9 L185.8 61.02 L188.28 62.17 L190.75 63.35 L193.22 64.55 L195.7 65.78 L198.17 67.04 L200.64 68.33 L203.11 69.64 L205.59 70.98 L208.06 72.34 L210.53 73.73 L213.01 75.15 L215.48 76.58 L217.95 78.05 L220.42 79.54 L222.9 81.05 L225.37 82.58 L227.84 84.14 L230.32 85.72 L232.79 87.32 L235.26 88.95 L237.74 90.59 L240.21 92.26 L242.68 93.95 L245.15 95.66 L247.63 97.38 L250.1 99.13 L252.57 100.9 L255.05 102.69 L257.52 104.49 L259.99 106.31 L262.46 108.16 L264.94 110.01 L267.41 111.89 L269.88 113.78 L272.36 115.69 L274.83 117.62 L277.3 119.56 L279.78 121.51 L282.25 123.49 L284.72 125.47 L287.19 127.47 L289.67 129.48 L292.14 131.51 L294.61 133.55 L297.09 135.6 L299.56 137.67 L302.03 139.75 L304.5 141.84 L306.98 143.94 L309.45 146.05 L311.92 148.17 L314.4 150.3 L316.87 152.44 L319.34 154.59 L321.81 156.75 L324.29 158.92 L326.76 161.1 L329.23 163.28 L331.71 165.47 L334.18 167.67 L336.65 169.88 L339.13 172.09 L341.6 174.31 L344.07 176.53 L346.54 178.76 L349.02 181 L351.49 183.24 L353.96 185.48 L356.44 187.73 L358.91 189.98 L361.38 192.23 L363.85 194.49 L366.33 196.75 L368.8 199.01 L371.27 201.28 L373.75 203.54 L376.22 205.8 L378.69 208.06 L381.17 210.31 L383.64 212.56 L386.11 214.81 L388.58 217.06 L391.06 219.31 L393.53 221.55 L396 223.79 L398.48 226.02 L400.95 228.25 L403.42 230.48 L405.89 232.7 L408.37 234.93 L410.84 237.14 L413.31 239.36 L415.79 241.57 L418.26 243.77 L420.73 245.98 L423.2 248.17 L425.68 250.37 L428.15 252.56 L430.62 254.74 L433.1 256.92 L435.57 259.1 L438.04 261.26 L440.52 263.42 L442.99 265.58 L445.46 267.72 L447.93 269.86 L450.41 271.99 L452.88 274.11 L455.35 276.22 L457.83 278.33 L460.3 280.42 L462.77 282.51 L465.24 284.59 L467.72 286.65 L470.19 288.71 L472.66 290.76 L475.14 292.8 L477.61 294.83 L480.08 296.85 L482.56 298.85 L485.03 300.85 L487.5 302.83 L489.97 304.8 L492.45 306.76 L494.92 308.71 L497.39 310.65 L499.87 312.57 L502.34 314.48 L504.81 316.38 L507.28 318.26 L509.76 320.13 L512.23 321.99 L514.7 323.84 L517.18 325.67 L519.65 327.48 L522.12 329.29 L524.59 331.08 L527.07 332.86 L529.54 334.62 L532.01 336.37 L534.49 338.1 L536.96 339.82 L539.43 341.53 L541.91 343.23 L544.38 344.91 L546.85 346.57 L549.32 348.23 L551.8 349.87 L554.27 351.49 L556.74 353.1 L559.22 354.7 L561.69 356.28 L564.16 357.85 L566.63 359.4 L569.11 360.95 L571.58 362.48 L574.05 364 L576.53 365.5 L579 367 L581.47 368.48 L583.95 369.96 L586.42 371.42 L588.89 372.87 L591.36 374.3 L593.84 375.73 L596.31 377.15 L598.78 378.55 L601.26 379.95 L603.73 381.33 L606.2 382.71 L608.67 384.07 L611.15 385.44 L613.62 386.81 L616.09 388.2 L618.57 389.58 L621.04 390.96 L623.51 392.33 L625.99 393.7 L628.46 395.05 L630.93 396.4 L633.4 397.76 L635.88 399.1 L638.35 400.44 L640.82 401.78 L643.3 403.11 L645.77 404.45 L648.24 405.79 L650.71 407.13 L653.19 408.46 L655.66 409.79 L658.13 411.11 L660.61 412.41 L663.08 413.69 L665.55 414.95 L668.02 416.19 L670.5 417.4 L672.97 418.6 L675.44 419.79 L677.92 420.96 L680.39 422.13 L682.86 423.29 L685.34 424.44 L687.81 425.58 L690.28 426.71 L692.75 427.84 L695.23 428.96 L697.7 430.07" stroke="#00ff00" stroke-width="0.85" fill="none" stroke-linejoin="round"/>
<path d="M128.2 407H181.5" stroke="#0000ff" stroke-width="0.7" fill="none"/>
<path d="M106.67 24.43 L109.14 24.5 L111.62 24.61 L114.09 24.76 L116.56 24.95 L119.03 25.18 L121.51 25.45 L123.98 25.76 L126.45 26.1 L128.93 26.49 L131.4 26.91 L133.87 27.37 L136.35 27.87 L138.82 28.4 L141.29 28.97 L143.76 29.57 L146.24 30.22 L148.71 30.89 L151.18 31.6 L153.66 32.35 L156.13 33.13 L158.6 33.95 L161.07 34.8 L163.55 35.68 L166.02 36.59 L168.49 37.54 L170.97 38.52 L173.44 39.53 L175.91 40.57 L178.38 41.65 L180.86 42.75 L183.33 43.89 L185.8 45.05 L188.28 46.25 L190.75 47.47 L193.22 48.73 L195.7 50.01 L198.17 51.32 L200.64 52.66 L203.11 54.02 L205.59 55.41 L208.06 56.83 L210.53 58.28 L213.01 59.75 L215.48 61.25 L217.95 62.78 L220.42 64.32 L222.9 65.9 L225.37 67.49 L227.84 69.12 L230.32 70.76 L232.79 72.43 L235.26 74.12 L237.74 75.83 L240.21 77.57 L242.68 79.32 L245.15 81.1 L247.63 82.9 L250.1 84.72 L252.57 86.56 L255.05 88.42 L257.52 90.3 L259.99 92.2 L262.46 94.11 L264.94 96.05 L267.41 98 L269.88 99.97 L272.36 101.96 L274.83 103.96 L277.3 105.98 L279.78 108.02 L282.25 110.07 L284.72 112.14 L287.19 114.22 L289.67 116.31 L292.14 118.42 L294.61 120.55 L297.09 122.68 L299.56 124.83 L302.03 127 L304.5 129.17 L306.98 131.36 L309.45 133.55 L311.92 135.76 L314.4 137.98 L316.87 140.21 L319.34 142.45 L321.81 144.7 L324.29 146.95 L326.76 149.22 L329.23 151.49 L331.71 153.78 L334.18 156.06 L336.65 158.36 L339.13 160.66 L341.6 162.97 L344.07 165.29 L346.54 167.61 L349.02 169.94 L351.49 172.27 L353.96 174.6 L356.44 176.94 L358.91 179.28 L361.38 181.63 L363.85 183.98 L366.33 186.33 L368.8 188.69 L371.27 191.04 L373.75 193.4 L376.22 195.75 L378.69 198.1 L381.17 200.45 L383.64 202.79 L386.11 205.13 L388.58 207.47 L391.06 209.81 L393.53 212.14 L396 214.47 L398.48 216.8 L400.95 219.12 L403.42 221.44 L405.89 223.76 L408.37 226.07 L410.84 228.38 L413.31 230.68 L415.79 232.98 L418.26 235.28 L420.73 237.57 L423.2 239.86 L425.68 242.14 L428.15 244.42 L430.62 246.7 L433.1 248.97 L435.57 251.23 L438.04 253.48 L440.52 255.73 L442.99 257.97 L445.46 260.2 L447.93 262.43 L450.41 264.65 L452.88 266.85 L455.35 269.05 L457.83 271.24 L460.3 273.42 L462.77 275.6 L465.24 277.76 L467.72 279.91 L470.19 282.05 L472.66 284.19 L475.14 286.31 L477.61 288.42 L480.08 290.52 L482.56 292.61 L485.03 294.68 L487.5 296.75 L489.97 298.8 L492.45 300.84 L494.92 302.87 L497.39 304.89 L499.87 306.89 L502.34 308.88 L504.81 310.85 L507.28 312.81 L509.76 314.76 L512.23 316.69 L514.7 318.61 L517.18 320.52 L519.65 322.41 L522.12 324.29 L524.59 326.15 L527.07 328 L529.54 329.84 L532.01 331.66 L534.49 333.46 L536.96 335.26 L539.43 337.03 L541.91 338.8 L544.38 340.55 L546.85 342.28 L549.32 344 L551.8 345.71 L554.27 347.4 L556.74 349.07 L559.22 350.74 L561.69 352.38 L564.16 354.02 L566.63 355.64 L569.11 357.24 L571.58 358.84 L574.05 360.42 L576.53 361.99 L579 363.54 L581.47 365.09 L583.95 366.62 L586.42 368.14 L588.89 369.65 L591.36 371.15 L593.84 372.63 L596.31 374.11 L598.78 375.57 L601.26 377.02 L603.73 378.46 L606.2 379.89 L608.67 381.31 L611.15 382.73 L613.62 384.17 L616.09 385.61 L618.57 387.04 L621.04 388.48 L623.51 389.91 L625.99 391.33 L628.46 392.74 L630.93 394.15 L633.4 395.56 L635.88 396.96 L638.35 398.35 L640.82 399.74 L643.3 401.13 L645.77 402.52 L648.24 403.92 L650.71 405.31 L653.19 406.7 L655.66 408.08 L658.13 409.45 L660.61 410.81 L663.08 412.14 L665.55 413.45 L668.02 414.74 L670.5 416 L672.97 417.25 L675.44 418.49 L677.92 419.71 L680.39 420.93 L682.86 422.13 L685.34 423.33 L687.81 424.52 L690.28 425.7 L692.75 426.87 L695.23 428.03 L697.7 429.19" stroke="#0000ff" stroke-width="0.85" fill="none" stroke-linejoin="round"/>
<path d="M128.2 432.2H181.5" stroke="#000" stroke-width="0.7" fill="none"/>
<path d="M106.67 62.26 L109.14 62.32 L111.62 62.42 L114.09 62.56 L116.56 62.73 L119.03 62.94 L121.51 63.19 L123.98 63.47 L126.45 63.79 L128.93 64.14 L131.4 64.52 L133.87 64.94 L136.35 65.39 L138.82 65.88 L141.29 66.4 L143.76 66.95 L146.24 67.53 L148.71 68.15 L151.18 68.8 L153.66 69.48 L156.13 70.19 L158.6 70.94 L161.07 71.71 L163.55 72.51 L166.02 73.35 L168.49 74.21 L170.97 75.1 L173.44 76.03 L175.91 76.98 L178.38 77.96 L180.86 78.97 L183.33 80 L185.8 81.06 L188.28 82.15 L190.75 83.27 L193.22 84.42 L195.7 85.59 L198.17 86.78 L200.64 88.01 L203.11 89.25 L205.59 90.53 L208.06 91.82 L210.53 93.14 L213.01 94.49 L215.48 95.86 L217.95 97.25 L220.42 98.67 L222.9 100.11 L225.37 101.57 L227.84 103.05 L230.32 104.56 L232.79 106.09 L235.26 107.64 L237.74 109.21 L240.21 110.8 L242.68 112.41 L245.15 114.04 L247.63 115.69 L250.1 117.36 L252.57 119.05 L255.05 120.76 L257.52 122.48 L259.99 124.23 L262.46 125.99 L264.94 127.77 L267.41 129.57 L269.88 131.38 L272.36 133.22 L274.83 135.06 L277.3 136.93 L279.78 138.81 L282.25 140.7 L284.72 142.61 L287.19 144.53 L289.67 146.47 L292.14 148.43 L294.61 150.39 L297.09 152.37 L299.56 154.37 L302.03 156.37 L304.5 158.39 L306.98 160.42 L309.45 162.46 L311.92 164.52 L314.4 166.58 L316.87 168.66 L319.34 170.75 L321.81 172.85 L324.29 174.96 L326.76 177.07 L329.23 179.2 L331.71 181.34 L334.18 183.48 L336.65 185.64 L339.13 187.8 L341.6 189.97 L344.07 192.14 L346.54 194.33 L349.02 196.52 L351.49 198.72 L353.96 200.92 L356.44 203.13 L358.91 205.35 L361.38 207.57 L363.85 209.8 L366.33 212.03 L368.8 214.26 L371.27 216.5 L373.75 218.75 L376.22 221 L378.69 223.25 L381.17 225.5 L383.64 227.75 L386.11 230.01 L388.58 232.27 L391.06 234.53 L393.53 236.8 L396 239.06 L398.48 241.33 L400.95 243.59 L403.42 245.86 L405.89 248.12 L408.37 250.38 L410.84 252.65 L413.31 254.91 L415.79 257.17 L418.26 259.43 L420.73 261.69 L423.2 263.94 L425.68 266.19 L428.15 268.44 L430.62 270.69 L433.1 272.93 L435.57 275.16 L438.04 277.4 L440.52 279.63 L442.99 281.85 L445.46 284.07 L447.93 286.28 L450.41 288.49 L452.88 290.69 L455.35 292.88 L457.83 295.07 L460.3 297.25 L462.77 299.42 L465.24 301.59 L467.72 303.75 L470.19 305.89 L472.66 308.03 L475.14 310.16 L477.61 312.29 L480.08 314.4 L482.56 316.5 L485.03 318.59 L487.5 320.67 L489.97 322.74 L492.45 324.8 L494.92 326.85 L497.39 328.89 L499.87 330.91 L502.34 332.92 L504.81 334.92 L507.28 336.91 L509.76 338.88 L512.23 340.84 L514.7 342.78 L517.18 344.71 L519.65 346.63 L522.12 348.53 L524.59 350.41 L527.07 352.28 L529.54 354.14 L532.01 355.97 L534.49 357.8 L536.96 359.6 L539.43 361.39 L541.91 363.16 L544.38 364.91 L546.85 366.64 L549.32 368.36 L551.8 370.06 L554.27 371.73 L556.74 373.39 L559.22 375.03 L561.69 376.65 L564.16 378.25 L566.63 379.83 L569.11 381.38 L571.58 382.92 L574.05 384.44 L576.53 385.93 L579 387.4 L581.47 388.85 L583.95 390.27 L586.42 391.68 L588.89 393.06 L591.36 394.41 L593.84 395.74 L596.31 397.05 L598.78 398.33 L601.26 399.59 L603.73 400.82 L606.2 402.03 L608.67 403.21 L611.15 404.36 L613.62 405.49 L616.09 406.59 L618.57 407.67 L621.04 408.72 L623.51 409.73 L625.99 410.73 L628.46 411.69 L630.93 412.62 L633.4 413.53 L635.88 414.4 L638.35 415.25 L640.82 416.07 L643.3 416.85 L645.77 417.61 L648.24 418.33 L650.71 419.02 L653.19 419.69 L655.66 420.32 L658.13 420.91 L660.61 421.48 L663.08 422.01 L665.55 422.51 L668.02 422.98 L670.5 423.41 L672.97 423.81 L675.44 424.17 L677.92 424.5 L680.39 424.8 L682.86 425.06 L685.34 425.28 L687.81 425.47 L690.28 425.62 L692.75 425.74 L695.23 425.81 L697.7 425.86" stroke="#000" stroke-width="0.85" fill="none" stroke-linejoin="round"/>
<path d="M103.7 390.53h6.5M697.7 390.53h-6.5M103.7 329.51h6.5M697.7 329.51h-6.5M103.7 268.49h6.5M697.7 268.49h-6.5M103.7 207.46h6.5M697.7 207.46h-6.5M103.7 146.44h6.5M697.7 146.44h-6.5M103.7 85.42h6.5M697.7 85.42h-6.5M282.92 451.55v-6.5M282.92 24.4v6.5M340.18 451.55v-6.5M340.18 24.4v6.5M381.81 451.55v-6.5M381.81 24.4v6.5M415.73 451.55v-6.5M415.73 24.4v6.5M444.86 451.55v-6.5M444.86 24.4v6.5M470.67 451.55v-6.5M470.67 24.4v6.5M494.01 451.55v-6.5M494.01 24.4v6.5M515.43 451.55v-6.5M515.43 24.4v6.5M535.29 451.55v-6.5M535.29 24.4v6.5M553.87 451.55v-6.5M553.87 24.4v6.5M633.13 451.55v-6.5M633.13 24.4v6.5" stroke="#000" stroke-width="1.0" fill="none"/>
<rect x="103.7" y="24.4" width="594.0" height="427.15000000000003" fill="none" stroke="#000" stroke-width="1.2"/>
</svg>
</body></html>
